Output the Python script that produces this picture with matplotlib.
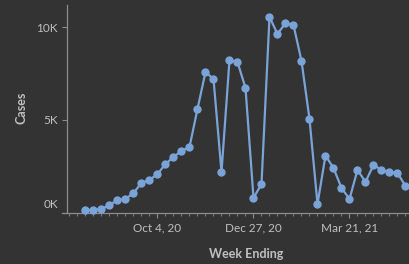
import datetime as dt
import numpy as np
import matplotlib
matplotlib.use("Agg")
import matplotlib.pyplot as plt
import matplotlib.dates as mdates
import matplotlib.transforms as mtransforms
from matplotlib.ticker import FixedLocator

# weekly cases, week ending Sundays from Aug 2, 2020
start = dt.date(2020, 8, 2)
cases = [135, 135, 190, 405, 675, 730, 1055, 1595, 1757, 2080, 2620, 3000,
         3325, 3540, 5595, 7595, 7216, 2190, 8243, 8135, 6730, 785, 1540,
         10570, 9650, 10240, 10135, 8190, 5055, 460, 3080, 2405, 1325, 730,
         2300, 1650, 2570, 2300, 2190, 2135, 1430]
weeks = [start + dt.timedelta(weeks=i) for i in range(len(cases))]
major_dates = [dt.date(2020, 10, 4), dt.date(2020, 12, 27), dt.date(2021, 3, 21)]
major_labels = ["Oct 4, 20", "Dec 27, 20", "Mar 21, 21"]
y_ticks = [0, 5000, 10000]
y_labels = ["0K", "5K", "10K"]

bg = "#333333"
line_col = "#7aa4d8"
txt = "#c0c0c0"
axis_col = "#8c8c8c"

plt.rcParams['font.family'] = ['Lato', 'DejaVu Sans']

fig = plt.figure(figsize=(4.10, 2.64), dpi=100, facecolor=bg)
W, H = 410, 264
ax = fig.add_axes([62 / W, (H - 212.5) / H, (W - 62) / W, (212.5 - 5) / H])
ax.set_facecolor(bg)

oct4 = mdates.date2num(dt.date(2020, 10, 4))
px_week = 8.0
def px_to_date(px):
    return oct4 + (px - 157.5) / px_week * 7

ax.plot(weeks, cases, color=line_col, lw=1.6, marker="o", ms=5,
        clip_on=False, zorder=3)

ax.set_xlim(px_to_date(62), px_to_date(410))
ax.set_ylim(0, 207.5 / 18.5 * 1000)

for s in ["top", "right"]:
    ax.spines[s].set_visible(False)
ax.spines["left"].set_position(("data", px_to_date(67)))
ax.spines["left"].set_bounds(0, ax.get_ylim()[1])
for s in ["left", "bottom"]:
    ax.spines[s].set_color(axis_col)
    ax.spines[s].set_linewidth(0.9)

ax.set_yticks(y_ticks)
ax.set_yticklabels(y_labels)
ax.set_xticks([mdates.date2num(d) for d in major_dates])
ax.set_xticklabels(major_labels)
ax.xaxis.set_minor_locator(FixedLocator(
    [mdates.date2num(start + dt.timedelta(weeks=i)) for i in range(-3, 42)]))

ax.tick_params(axis="both", which="major", colors=axis_col, labelcolor=txt,
               labelsize=8.5, length=3.5, width=0.8)
ax.tick_params(axis="x", which="major", pad=4)
ax.tick_params(axis="y", which="major", pad=3)
ax.tick_params(axis="x", which="minor", colors=axis_col, length=2, width=0.6)

# Tableau nudges the bottom label up inside the pane
lbl0 = ax.get_yticklabels()[0]
lbl0.set_transform(lbl0.get_transform() +
                   mtransforms.ScaledTranslation(0, 9.5 / 100, fig.dpi_scale_trans))

fig.text(22 / W, 1 - 108 / H, "Cases", rotation=90, ha="center", va="center",
         color=txt, fontsize=9, fontweight="bold")
fig.text(246 / W, 1 - 254 / H, "Week Ending", ha="center", va="center",
         color=txt, fontsize=9, fontweight="bold")

fig.savefig("out.png", dpi=100, facecolor=bg)
